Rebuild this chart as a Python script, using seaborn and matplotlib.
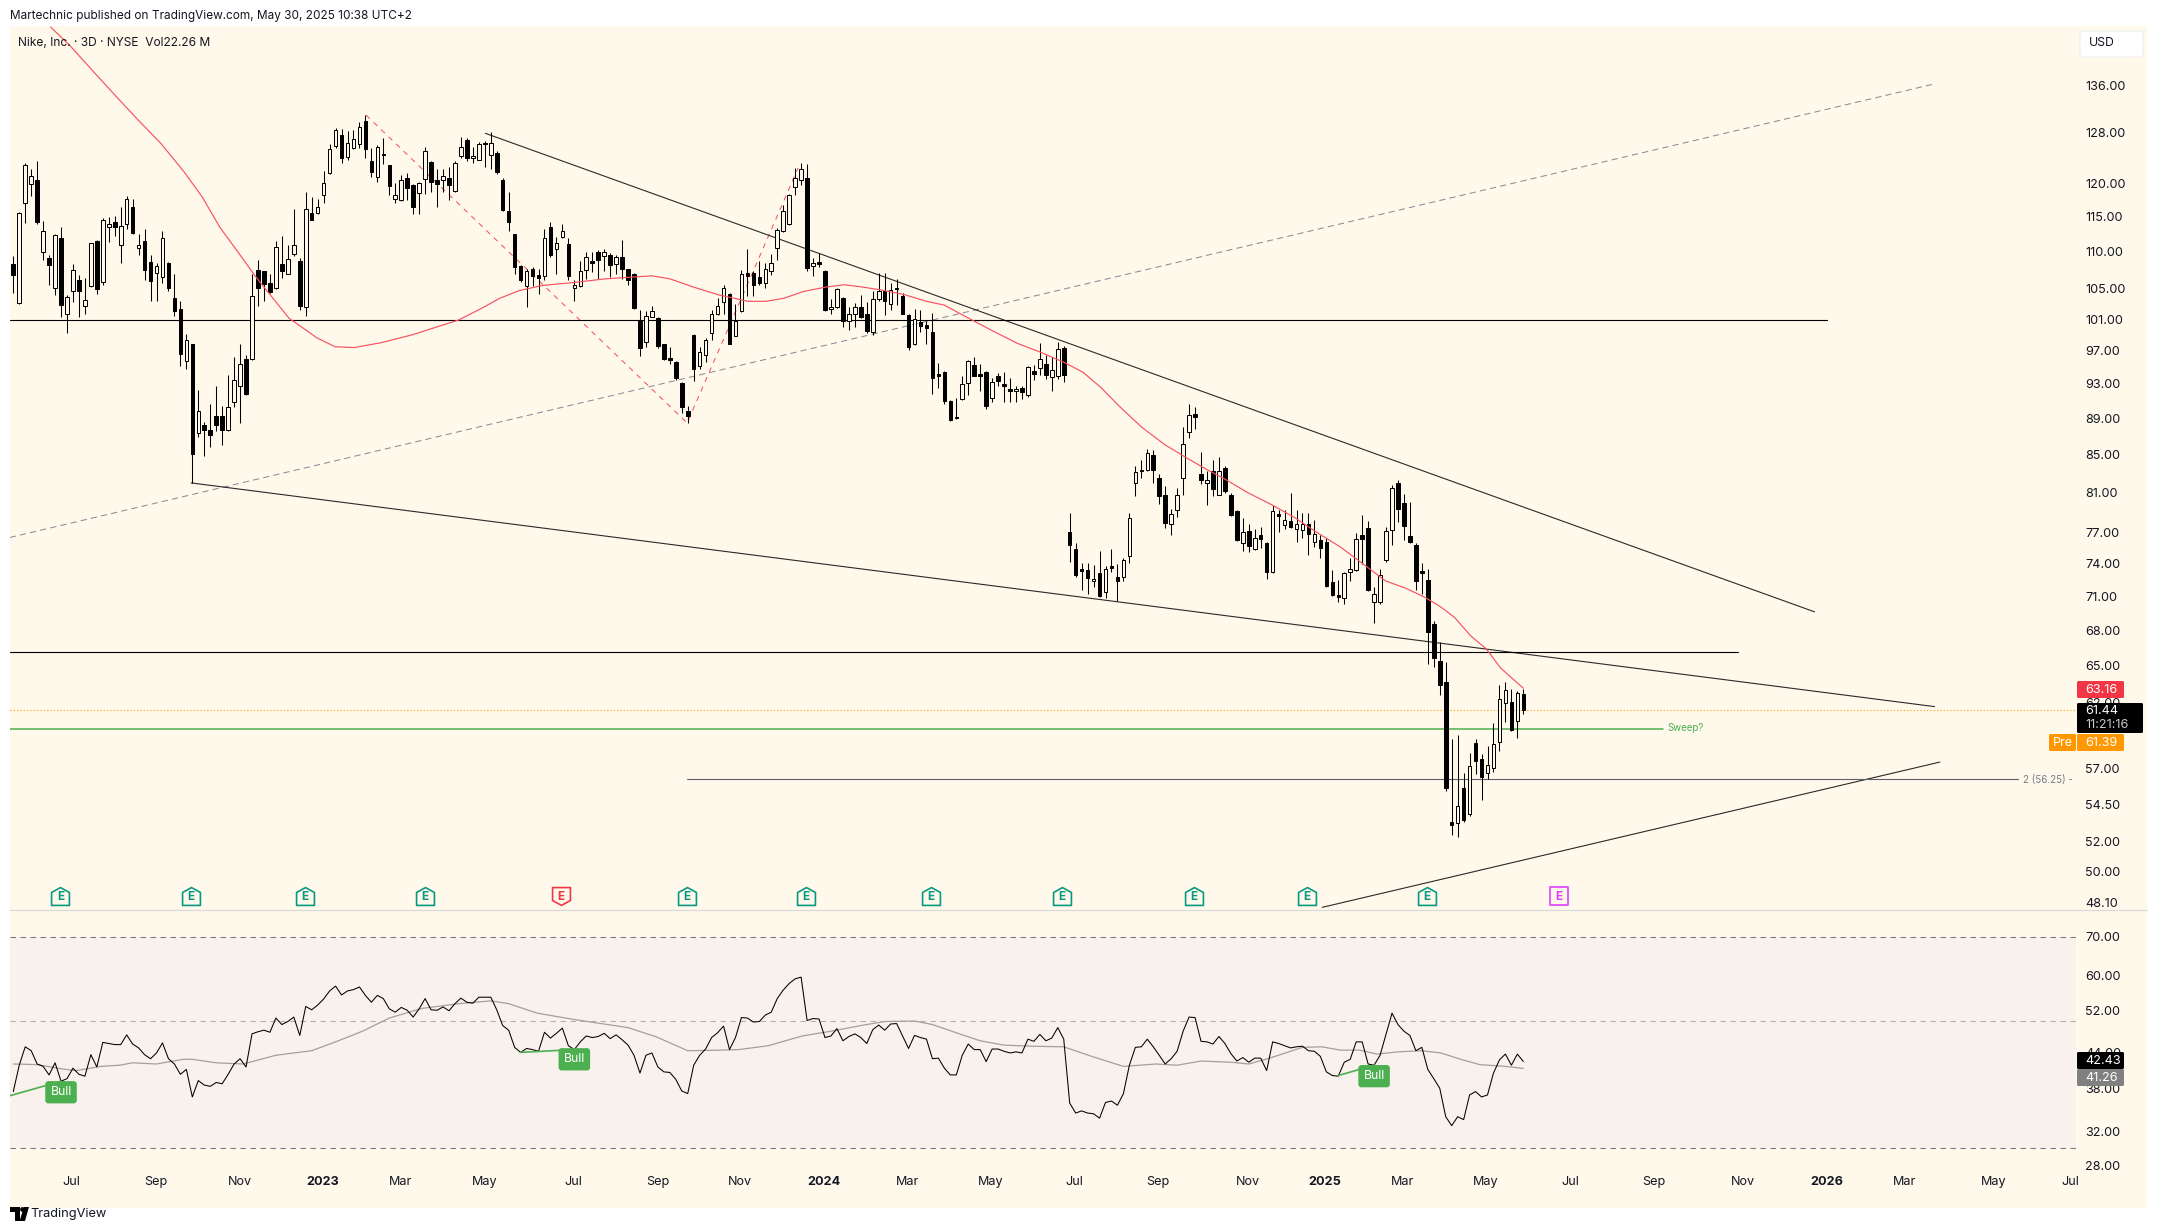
import matplotlib
matplotlib.use("Agg")
import matplotlib.pyplot as plt
import numpy as np
import pandas as pd
import seaborn as sns
from matplotlib.patches import Rectangle, Polygon, FancyBboxPatch
from matplotlib.path import Path
from matplotlib.ticker import FixedLocator, FixedFormatter, NullLocator
from matplotlib.transforms import blended_transform_factory

sns.set_style("white")
plt.rcParams['font.family'] = ['Inter', 'DejaVu Sans']

opens = [
108.3,103.1,117.1,119.9,120.5,110,109.1,105,111.9,101.6,
104.6,106.2,102.7,105.3,111.6,105.9,113.6,114.2,110.9,114,
116.4,110.6,111.5,108.6,107.1,106.6,108.5,103.7,102.3,95.8,
97.8,87.4,88.3,87.7,89.3,89.3,87.7,90.9,92.8,96,
96,107.5,107.3,105.7,105,108.3,106.9,109.7,108.8,102.6,
115.6,115.6,118.2,121.6,125.8,127.6,124.1,125.5,126.1,130,
123.5,121,124.6,122.8,117.6,117.5,120.8,119.7,118.6,120.7,
123.3,120.6,120.6,120.9,118.9,124.2,126.8,123.9,123.7,126.4,
124.5,124.8,120.6,115.9,112.5,108,105.3,107.6,106.8,106.7,
113.6,110.4,112.1,111.1,105,105.3,107.5,108.7,110,109.4,
109.6,108.3,109.3,107.6,107,100.7,98.1,101.3,101.1,97.8,
96.1,95.6,93.1,89.8,99,95.2,96.5,99.2,101.6,103.2,
104.3,98.9,102,107.1,107.1,106.6,105.8,107.3,110.6,112.9,
113.9,119.5,120.6,120.9,108,108.6,107.4,102.3,102.5,103.7,
100.8,101.6,102.6,101.7,99.4,103.6,104.7,103,105.1,104,
101.5,97.8,100.6,100.2,99.4,94.2,94.4,91,89.2,91.2,
93.1,95.3,94.2,94.4,91.3,94,93,92.4,92.2,92.5,
91.7,94.5,94.9,95.4,93.8,93.9,97.3,77,75.4,73.5,
73.4,72.4,73.1,71.4,73.8,72.8,72.8,74.7,82,83.4,
83.4,85,82.5,80.7,77.8,79.2,82.5,87.5,89.5,82.9,
82,83.2,80.8,83.6,80.8,79.1,76,77.1,75.4,76.7,
76,73.2,78.8,77.7,78.1,77.3,77.2,77.8,76.1,76.3,
76.1,72.3,71.1,70.8,73.2,73.4,76.7,77.4,70.5,70.5,
74.3,77.2,82,79.9,76.6,75.8,73.3,72.5,68.5,65.4,
63.7,53.3,53.2,55.6,53.8,58.9,57.7,56.7,57.1,59,
62,62.1,60.6,62.7]

highs = [
109.4,115.7,123.1,122.2,123.5,114.4,109.5,112.6,113.6,104.1,
108.3,106.8,106.4,111.3,111.7,114.9,115,115.2,116.4,118.1,
117.6,112.5,113.3,109.6,108.4,113,108.6,107,103.3,99.1,
97.9,92.3,88.6,90.6,92.7,90.4,94.1,96.2,97.9,96.5,
106.9,108.9,107.4,106.9,111.5,112.3,111,116.1,109.2,118.7,
117.9,117.6,121.9,126.2,128.7,128.6,128.2,128.5,129.7,130.9,
125.5,126,127.2,122.9,120,121.3,121.6,119.9,120.2,125.7,
123.4,122.3,122.3,122.6,123.4,127.3,127.1,125.7,126.5,126.6,
128.1,125,120.8,118.7,112.6,108.2,107.7,107.9,107.7,113.3,
114.3,112.1,114,112,106.1,108.8,110,110,110.2,110.4,
109.8,109.5,111.7,107.7,107.1,102.1,102,102.7,101.3,97.9,
97.5,95.8,93.2,90.4,99.1,97.5,98.6,102.2,103.8,105.5,
104.4,102.9,107.5,110.4,107.4,108.7,108.5,109.7,113.4,116.8,
118.4,122.4,123.1,123,109.2,109.9,107.5,103.6,105,103.9,
102.5,103.1,104.1,103.2,104.7,107.1,107.1,105.8,106.3,104.4,
101.6,102.3,102.2,100.8,101.8,95.5,94.5,91.1,91.3,93.9,
95.9,96.2,95.4,94.5,93.7,94.3,94.4,93.7,92.8,92.7,
95.2,95.3,98,96.5,96.2,98.1,97.6,78.9,76,74.1,
74.1,73.9,75.2,73.8,75.4,74,74.5,78.9,83.8,84.4,
85.6,85.5,82.9,81.7,79.3,81.5,88,90.7,90.3,85.3,
83.3,84.4,84.8,83.8,81,79.2,78.4,77.8,77.3,77.5,
76.1,79.7,79.2,79.2,81,79.2,78.9,78.9,78.2,76.7,
76.5,73.4,72.5,73.2,74.5,76.9,78.7,78.1,71.8,73.5,
77.5,81.8,82.3,80.9,80,76,74.1,73.5,68.8,67,
65.3,59.2,59.5,56.7,58.2,59.2,58.1,58.7,60.4,63.4,
63.7,63.1,62.9,63.1]

lows = [
104.4,103,114.1,118.1,114,108.9,105.4,104.1,101.3,99.2,
103.2,101.3,101.6,105.2,104.3,105.5,111.4,112.3,108.5,113.3,
112.6,109.5,106.1,103.4,103.4,105.7,104.6,101.4,95.1,94.8,
82,86.9,84.9,85.8,87.6,86.1,87.6,90.3,88.5,91.7,
95.9,102.7,103.3,104.4,104.9,106.4,106.9,109.4,102.1,101.4,
114.5,115.4,117.1,121.5,125.6,123.2,123.6,125.4,125.6,124,
121,120.2,123,118.3,117.1,117.4,117.5,115.5,115.5,118.4,
118.7,116.5,118.7,117.5,118.7,123.9,123.4,123.1,123.6,122.6,
122.3,121.5,115.9,113,107,105.9,102.6,105.3,104.3,106.1,
109.3,106.9,111.9,106.2,103.3,105.2,106.3,107.2,106.3,107.4,
106.6,107,106.3,105.4,102.3,96.3,97.5,101.2,97.3,95.9,
95.4,93.5,89.6,88.5,93.4,94.8,95.6,98.3,101.5,101.7,
97.8,98.8,101.9,104,104,105.4,105,106.8,108.9,112.8,
113.8,118.3,119.7,107.4,106.7,107.9,102,101.7,102.4,100,
99.6,100,101.1,99.2,99,103.3,101.5,102.1,102.8,101.6,
97.1,97.7,99.4,97.9,91.8,92.5,90.7,88.7,88.9,91.1,
91.7,93.9,92.2,90.1,90.9,92.8,90.9,90.9,90.9,91.2,
91.5,93.5,94.1,93.6,92.2,93.6,93.2,74.2,72.8,71.6,
71.2,71.8,70.9,70.8,73.2,70.6,72.4,74.1,80.6,82.5,
83.3,82,79.8,77.4,76.7,78.5,80.7,86.8,87.8,81.9,
79.7,80.6,80.7,81,78.6,76.2,75.2,75.1,75.3,75.5,
72.6,73.1,77,77.3,77.4,76.1,76.5,74.8,75.6,74.5,
71.8,71,70.5,70.3,72.4,73.3,74,71.5,68.6,70.3,
74.2,75.8,78,76.3,76,71.6,71.2,65.1,64.9,62.6,
55.4,52.4,52.3,53.3,53.7,56.6,54.8,56.3,56.8,58.3,
60.5,59.8,59.3,61.1]

closes = [
106.8,115.6,122.9,121.2,114.3,113,108.2,112.4,102.8,103.9,
107.5,104.7,103.5,111.2,104.9,114.5,113.9,113.6,113.7,117.6,
112.7,111,107.5,106,108.1,112,105.1,102,96.6,98.4,
85.1,89.9,87.7,87.2,88.3,87.7,90.3,93.5,95.4,91.8,
104,105,105.6,104.5,110.7,107.4,109,111,102.7,116.2,
114.6,116.4,120.1,125.3,128.4,124,126.4,127,129,125.3,
121.7,125.7,124.4,119.6,118.3,120.5,119.3,116.4,120.1,125.1,
120.2,119.9,121.2,119.8,123.2,125.7,124,124.2,126.2,126.2,
126.4,121.8,116,114.3,107.9,106.1,107.4,106.7,106.4,112,
109.5,111.3,113,106.7,105.4,107.4,109.3,108.5,108.9,110,
108.2,109.3,107.6,106.2,102.4,97.3,101.4,102,97.6,96,
95.9,93.7,90.3,89.3,94.8,96.8,98.4,101.7,102.7,105,
97.9,100.8,107,106.7,105.5,105.8,107.7,108.5,113.1,115.8,
118.3,120.8,122.2,107.8,108.4,108.3,102.1,102.5,104.9,100.8,
101.7,102.5,101.2,99.5,103.6,104.7,103.3,104.8,104.9,101.7,
97.5,101,100.1,99.8,93.7,94,91,88.8,89,93,
95.7,94,94,90.4,93.2,93.4,92.7,92.2,92.4,92,
95,94.2,96,94.1,94.7,97.2,94.1,75.8,72.9,73.3,
72.7,72.6,71,73.5,73.6,72.4,74.3,78.4,83.1,83.2,
85.2,83.4,80.6,77.9,78.8,80.7,86.2,89.4,89.2,82.3,
82.3,81.4,83.2,81.2,78.7,76.3,77,75.7,76.5,76.4,
73.2,79.1,78.6,78.2,77.5,77.8,77.8,76.8,76.8,75.5,
71.9,71.1,70.9,73.1,73.5,76.4,76.4,71.6,71.2,72.9,
77.1,81.5,79.3,77.6,76.1,72.4,73.1,67.8,65.6,63.4,
55.6,53.1,54.4,53.4,57.2,57.6,56.4,57.3,58.8,62.3,
63,59.9,62.8,61.44]

ma_bars = [6.25,9.4,13.2,17,20.9,24.7,28.6,31.7,34.6,37.8,40.5,43.1,46.2,50.9,53.9,57.1,61.6,66.9,74.7,78.5,
81.5,84.7,88.6,93.9,99.3,103.1,107,110,113.9,118.4,120.8,123,126.1,129.1,132.4,136.2,139.2,142.2,145.4,149.2,
153,156,159.1,163.8,168.3,172.2,176,179.2,182.2,185.3,189.1,192.9,196.2,200,203,206.8,210.7,214.6,218.4,222.3,
226.1,229.9,233.4,236.5,239,241.5,244.2,246.8,249.2,253]
ma_vals = [146.4,143.1,138.6,134.3,130.1,126.3,121.8,117.9,113.5,109.8,106.7,104.1,101.1,98.6,97.5,97.4,98,99,100.9,102.4,
103.7,104.7,105.4,105.8,106.3,106.5,106.7,106.3,105.2,104.1,103.7,103.3,103.3,103.7,104.6,105.2,105.5,105.2,104.8,104.2,
103.3,102.8,101.5,99.6,97.9,96.8,95.6,94.4,92.6,90.4,88,86.1,84.8,83.4,82.4,81,79.8,78.5,77,75.6,
74,72.4,71.7,70.9,70.1,69.1,67.5,66.4,64.8,63.16]

rsi = [
37.6,41.8,45.0,44.3,42.0,41.6,40.2,42.2,39.2,39.6,41.3,40.3,40.0,43.6,41.5,45.8,45.6,45.4,45.4,47.2,
45.5,44.8,43.6,42.9,43.9,45.7,42.9,42.0,40.3,41.1,36.8,39.3,38.6,38.4,39.0,38.8,40.3,42.0,42.9,41.5,
47.4,47.8,48.1,47.7,50.5,49.2,49.8,50.7,47.1,52.9,52.2,53.2,54.5,56.3,57.4,55.4,56.3,56.6,57.2,55.3,
53.8,55.3,54.6,52.4,51.7,52.7,52.1,50.7,52.4,54.6,52.2,52.1,52.8,52.0,53.5,54.7,53.8,53.6,54.9,54.9,
54.9,52.2,49.0,48.1,44.9,44.0,44.7,44.5,44.2,47.7,46.6,47.5,48.5,45.2,44.5,45.9,47.0,46.7,46.9,47.5,
46.5,47.2,46.3,45.3,43.5,40.5,43.5,43.9,41.5,40.7,40.6,39.5,37.7,37.3,41.8,43.5,44.6,46.7,47.6,
48.9,44.5,46.7,50.6,50.5,49.7,49.8,51.1,51.7,54.6,56.5,58.0,59.1,59.5,50.0,50.4,50.3,46.7,47.0,48.4,
46.1,46.9,47.4,46.7,45.6,48.2,49.1,48.1,49.3,49.4,47.0,44.7,47.1,46.7,46.4,42.9,43.0,41.3,40.2,40.2,
43.5,45.5,44.5,44.5,42.4,44.6,44.6,44.2,43.9,44.1,43.9,46.4,46.0,47.3,46.1,46.6,48.6,46.4,35.9,34.5,
34.8,34.5,34.4,33.8,36.0,36.2,35.6,37.3,41.8,44.9,45.0,46.4,45.0,43.5,42.0,42.9,44.2,47.9,50.7,50.6,
46.0,45.9,45.5,46.9,45.6,43.8,42.5,43.1,42.3,43.0,43.0,40.9,45.9,45.6,45.2,44.8,45.0,45.1,44.3,44.2,
43.3,40.7,40.1,40.0,42.3,42.8,45.9,45.9,42.0,41.8,43.5,47.3,51.5,49.2,47.9,47.1,44.3,44.9,41.1,39.6,
38.1,34.0,32.8,34.0,33.6,37.1,37.6,36.8,37.1,40.5,42.7,43.7,41.8,43.7,42.43]

rsi_ma_bars = [0,4,8,10.5,14.7,17.8,20,24,28.5,30,34,38.5,44,50,54,58.5,63,68.5,74.7,80,83,87.8,94,103,107.8,113,118.4,
121.6,126.5,132.2,137,142,146,151,154,158,162,166,171,176,181,186,191.5,195,199,204,207,210.5,216,219.2,222.4,225.6,
228.5,232,236,239.2,242.5,245.7,250,253]
rsi_ma_vals = [42.0,41.9,41.2,40.9,41.6,41.8,42.2,42.0,42.8,42.8,42.2,42.0,43.5,44.3,45.9,47.9,50.5,52.5,53.5,54.1,53.5,51.5,50.2,48.6,46.8,44.3,44.4,
44.5,45.2,47.0,47.9,49,49.8,49.9,49.2,47.6,46.1,45.3,45.1,45.0,43.2,41.6,42,41.8,42.5,42.3,42,43,44.9,45,44.4,44.4,
43.7,44.1,44.3,43.9,42.8,41.9,41.6,41.26]

price_ticks = [136,128,120,115,110,105,101,97,93,89,85,81,77,74,71,68,65,62,57,54.5,52,50,48.1]
rsi_ticks = [70,60,52,44,38,32,28]
date_ticks = [9.76,23.8,37.9,51.9,64.8,78.9,93.9,108,121.8,135.8,149.9,163.7,177.8,191.8,206.8,219.7,232.7,246.7,260.8,274.8,289.8,303.9,316.8,331.8,344.7]
date_labels = ["Jul","Sep","Nov","2023","Mar","May","Jul","Sep","Nov","2024","Mar","May","Jul","Sep","Nov","2025","Mar","May","Jul","Sep","Nov","2026","Mar","May","Jul"]
earn_bars = [7.9,29.8,48.9,69,91.8,112.8,132.8,153.8,175.7,197.8,216.7,236.8,259]
earn_kinds = ["up","up","up","up","down","up","up","up","up","up","up","up","next"]

upper_x, upper_y = [79.1,301.8], [127.9,69.6]
lower_x, lower_y = [29.8,321.9], [82.0,61.7]
channel_x, channel_y = [-0.6,321.9], [76.5,136.2]
rising_x, rising_y = [219.3,322.8], [47.8,57.5]
zig_x, zig_y = [59.1,112.9,131.5], [130.9,88.5,122.4]
level_a, level_a_end = 100.9, 303.9
level_b, level_b_end = 66.1, 288.9
level_green, level_green_end = 59.95, 276.4
fib_level, fib_start, fib_end = 56.25, 112.8, 335.9
last_price = 61.44
bull_x = [[-0.5,8],[85,94],[222,228]]
bull_y = [[37.0,39.2],[44.0,44.5],[40.1,41.8]]
bull_lab = [(8,37.5),(94,42.8),(228,40.0)]

W, H = 2158, 1231
CREAM, BAND = "#FFF9EC", "#F8F1EC"
TXT = "#131722"
FS = 9.1

def rect(x0, y0, x1, y1):
    return [x0/W, 1-y1/H, (x1-x0)/W, (y1-y0)/H]

fig = plt.figure(figsize=(W/100, H/100), dpi=100, facecolor="white")

bg = fig.add_axes([0,0,1,1], zorder=0)
bg.set_xlim(0,W); bg.set_ylim(H,0); bg.axis("off")
bg.add_patch(Rectangle((10,26),2137,1182,fc=CREAM,ec="none"))
bg.plot([10,2147],[909.5,909.5],color="#D9D9D9",lw=0.9)

xlim = (-0.55, 345.6)
ax = fig.add_axes(rect(10,26,2076,909), zorder=2)
ax2 = fig.add_axes(rect(10,909,2076,1166), zorder=2)
for a in (ax, ax2):
    a.patch.set_alpha(0)
    a.set_yscale("log")
    a.set_xlim(*xlim)
    for s in a.spines.values():
        s.set_visible(False)
    a.yaxis.tick_right()
    a.yaxis.set_minor_locator(NullLocator())
    a.tick_params(axis="both", which="both", length=0, labelsize=FS, labelcolor=TXT, pad=6.5)
    a.set_xlabel(""); a.set_ylabel("")

ax.set_ylim(47.7,146.6)
ax.yaxis.set_major_locator(FixedLocator(price_ticks))
ax.yaxis.set_major_formatter(FixedFormatter([f"{t:.2f}" for t in price_ticks]))
ax.set_xticks([])

ax2.set_ylim(27.9,78.2)
ax2.yaxis.set_major_locator(FixedLocator(rsi_ticks))
ax2.yaxis.set_major_formatter(FixedFormatter([f"{t:.2f}" for t in rsi_ticks]))
ax2.set_xticks(date_ticks)
ax2.set_xticklabels(date_labels)
ax2.tick_params(axis="x", pad=7)
for lab in ax2.get_xticklabels():
    if lab.get_text().isdigit():
        lab.set_fontweight("bold")

# Candles
df = pd.DataFrame({"o":opens,"h":highs,"l":lows,"c":closes})
df["i"] = np.arange(len(df))
df["up"] = df.c >= df.o
df["top"] = df[["o","c"]].max(axis=1)
df["bot"] = df[["o","c"]].min(axis=1)
ax.vlines(df.i, df.l, df.h, color="black", lw=0.75, zorder=4)
ax.bar(df.i, df.top-df.bot, bottom=df.bot, width=0.6,
       color=[CREAM if u else "black" for u in df.up], edgecolor="black", linewidth=0.72, zorder=5)

# Drawn levels and trend lines
ax.plot(channel_x, channel_y, color="#8A8D96", lw=0.75, ls=(0,(6,4)), zorder=3)
ax.plot(zig_x, zig_y, color="#F7525F", lw=0.75, ls=(0,(5,5)), zorder=3)
ax.plot(upper_x, upper_y, color="#2A2A2A", lw=0.8, zorder=3)
ax.plot(lower_x, lower_y, color="#2A2A2A", lw=0.8, zorder=3)
ax.plot(rising_x, rising_y, color="#2A2A2A", lw=0.8, zorder=3)
ax.plot([xlim[0],level_a_end],[level_a]*2, color="black", lw=0.8, zorder=3)
ax.plot([xlim[0],level_b_end],[level_b]*2, color="black", lw=0.8, zorder=3)
ax.plot([xlim[0],level_green_end],[level_green]*2, color="#4CAF50", lw=1.1, zorder=3)
ax.plot([fib_start,fib_end],[fib_level]*2, color="#5D606B", lw=0.8, zorder=3)
ax.plot(list(xlim),[last_price]*2, color="#FF9800", lw=0.8, ls=(0,(1,2)), zorder=3)
sns.lineplot(x=ma_bars, y=ma_vals, ax=ax, color="#F7525F", lw=0.85, estimator=None, sort=False, legend=False, zorder=6)
ax.set_xlabel(""); ax.set_ylabel("")
ax.set_xlim(*xlim)

# Earnings flags
trans = blended_transform_factory(ax.transData, ax.transAxes)
up_m = Path([(-1,-1),(1,-1),(1,0.45),(0,1),(-1,0.45),(-1,-1)], closed=True)
dn_m = Path([(-1,1),(1,1),(1,-0.45),(0,-1),(-1,-0.45),(-1,1)], closed=True)
sq_m = Path([(-1,-1),(1,-1),(1,1),(-1,1),(-1,-1)], closed=True)
flags = {"up":(up_m,"#089981"),"down":(dn_m,"#F23645"),"next":(sq_m,"#E040FB")}
for b,k in zip(earn_bars,earn_kinds):
    m,c = flags[k]
    ax.scatter([b],[0.0147],marker=m,s=165,facecolor=CREAM,edgecolor=c,linewidth=1.2,transform=trans,zorder=7,clip_on=False)
    ax.text(b,0.0140,"E",color=c,fontsize=8.5,fontweight="bold",ha="center",va="center",transform=trans,zorder=8)

# RSI pane
ax2.axhspan(30,70,color=BAND,zorder=0,lw=0)
ax2.axhline(70,color="#787B86",lw=0.8,ls=(0,(5,4)),zorder=1)
ax2.axhline(50,color="#B2B2B2",lw=0.8,ls=(0,(5,4)),zorder=1)
ax2.axhline(30,color="#787B86",lw=0.8,ls=(0,(5,4)),zorder=1)
sns.lineplot(x=rsi_ma_bars, y=rsi_ma_vals, ax=ax2, color="#A3A09C", lw=0.9, estimator=None, sort=False, legend=False, zorder=2)
sns.lineplot(x=np.arange(len(rsi)), y=rsi, ax=ax2, color="black", lw=0.75, estimator=None, sort=False, legend=False, zorder=3)
for xs,ys in zip(bull_x,bull_y):
    ax2.plot(xs,ys,color="#4CAF50",lw=1.2,zorder=4)
for bx,by in bull_lab:
    ax2.text(bx,by,"Bull",color="white",fontsize=8.8,ha="center",va="center",zorder=6,
             bbox=dict(boxstyle="round,pad=0.42,rounding_size=0.25",fc="#4CAF50",ec="none"))
ax2.set_xlabel(""); ax2.set_ylabel("")
ax2.set_xlim(*xlim)

# Overlay: text chrome and price labels
ov = fig.add_axes([0,0,1,1], zorder=5)
ov.set_xlim(0,W); ov.set_ylim(H,0); ov.axis("off"); ov.patch.set_alpha(0)
def t(x,y,s,**k):
    k.setdefault("color",TXT); k.setdefault("fontsize",FS); k.setdefault("va","center"); k.setdefault("ha","left")
    ov.text(x,y,s,**k)
t(10,16,"Martechnic published on TradingView.com, May 30, 2025 10:38 UTC+2",fontsize=8.5)
t(18,43,"Nike, Inc. · 3D · NYSE  Vol22.26 M",fontsize=8.6)
t(107,1214,"TradingView",fontsize=9.2,ha="right")
t(1667,728,"Sweep?",color="#4CAF50",fontsize=7)
t(2023,780,"2 (56.25) -",color="#787B86",fontsize=7)
ov.add_patch(FancyBboxPatch((2080,31),63,26,boxstyle="round,pad=0,rounding_size=3",fc="white",ec="#EFEFEF",lw=0.8))
t(2089,43.5,"USD",fontsize=8.8)
def box(x0,y0,x1,y1,c):
    ov.add_patch(FancyBboxPatch((x0,y0),x1-x0,y1-y0,boxstyle="round,pad=0,rounding_size=1.5",fc=c,ec="none"))
box(2077,681,2124,698,"#F23645"); t(2085,690,"63.16",color="white")
box(2077,703,2143,733,"black"); t(2085,711,"61.44",color="white"); t(2085,725,"11:21:16",color="#C8C8C8")
box(2049,734,2076,751,"#FF9800"); t(2062.5,743,"Pre",color="white",ha="center")
box(2077,734,2124,751,"#FF9800"); t(2085,743,"61.39",color="white")
box(2077,1052,2124,1069,"black"); t(2085,1061,"42.43",color="white")
box(2077,1069,2124,1086,"#808080"); t(2085,1078,"41.26",color="white")
# logo
ov.add_patch(Polygon([(10,1207),(20,1207),(20,1221),(15,1221),(15,1212),(10,1212)],fc="black",ec="none"))
ov.add_patch(Polygon([(24,1207),(29,1207),(25,1221),(19.5,1221)],fc="black",ec="none"))
ov.add_patch(plt.Circle((22.5,1209.5),2.4,fc="black",ec="none"))

fig.savefig("out.png", dpi=100, facecolor="white")
